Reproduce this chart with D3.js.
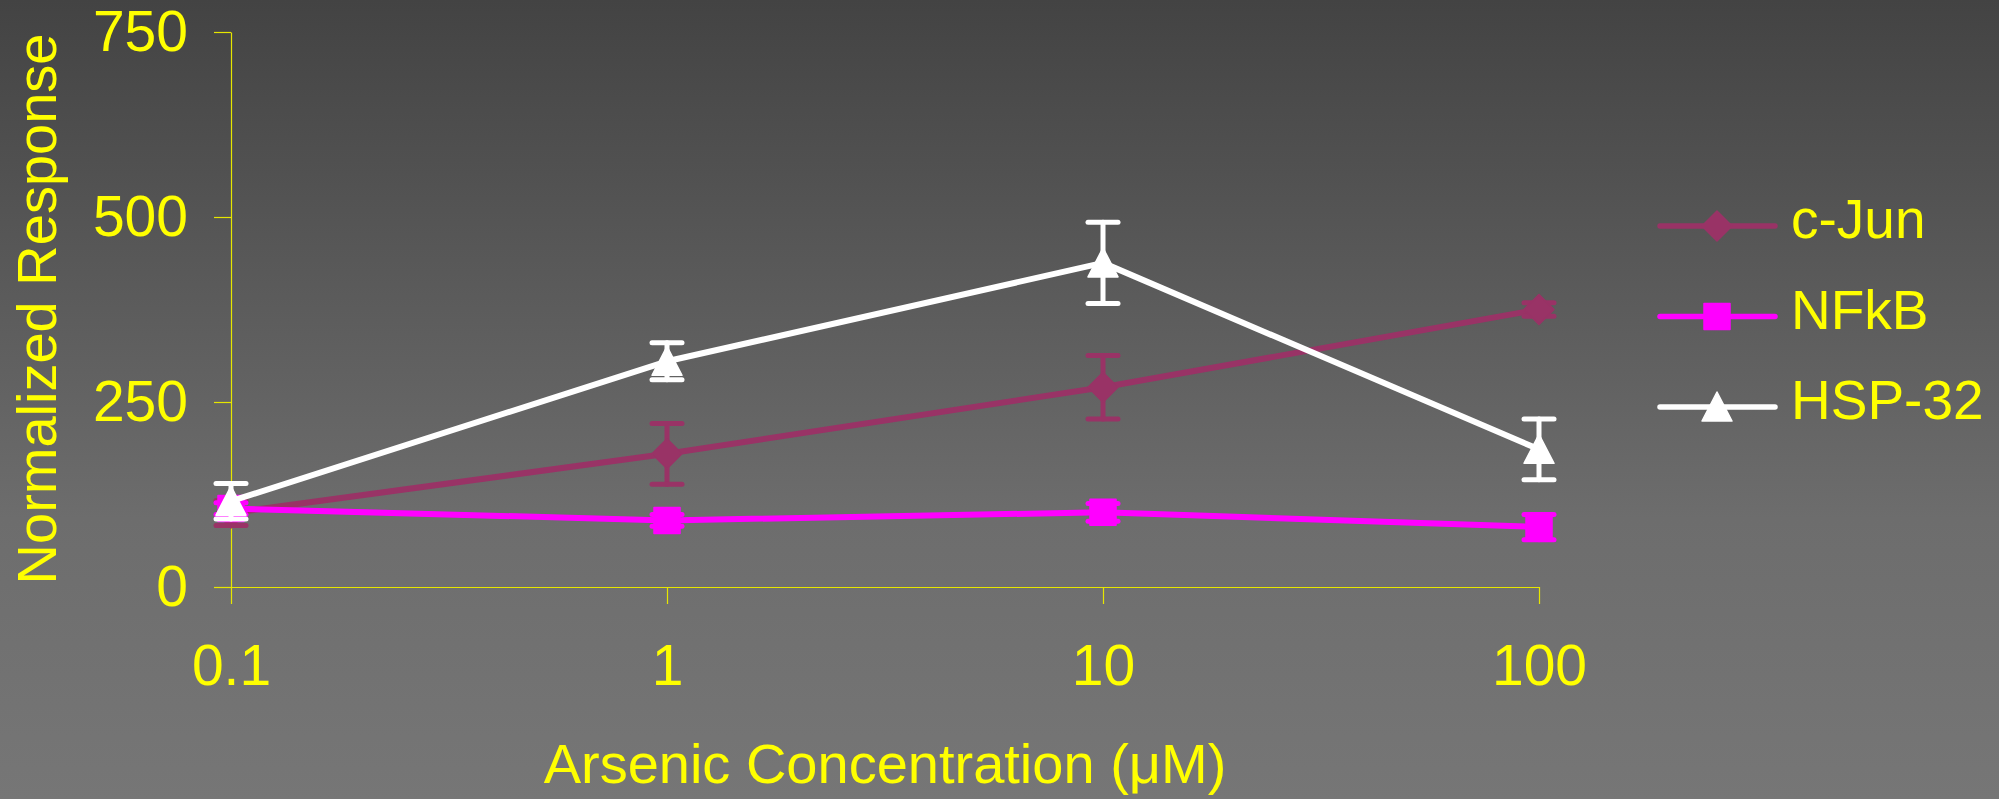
<!DOCTYPE html>
<html>
<head>
<meta charset="utf-8">
<script src="https://cdn.jsdelivr.net/npm/d3@7"></script>
<style>
  body { margin: 0; background: #5a5a5a; }
  svg { display: block; }
  text { font-family: "Liberation Sans", Arial, sans-serif; fill: #ffff00; }
</style>
</head>
<body>
<div id="chart"></div>
<script>
// concentrations (uM) and series values
var concentrations = [0.1, 1, 10, 100];
var seriesNames = ["c-Jun", "NFkB", "HSP-32"];
var cJun = [100, 180, 270, 375];
var cJunErr = [17, 41, 43, 9];
var nfkb = [106, 90, 101, 81];
var nfkbErr = [8, 8, 12, 17];
var hsp32 = [116, 305, 438, 186];
var hsp32Err = [24, 25, 55, 41];
var yTicks = [0, 250, 500, 750];
var xTicks = [0.1, 1, 10, 100];

var W = 1999, H = 799;
var margin = {left: 231, top: 32, right: 460, bottom: 212};

var series = [
  {name: seriesNames[0], values: cJun, err: cJunErr, color: "#993366", shape: "diamond"},
  {name: seriesNames[1], values: nfkb, err: nfkbErr, color: "#ff00ff", shape: "square"},
  {name: seriesNames[2], values: hsp32, err: hsp32Err, color: "#ffffff", shape: "triangle"}
];

var svg = d3.select("#chart").append("svg")
  .attr("width", W)
  .attr("height", H);

var grad = svg.append("defs").append("linearGradient")
  .attr("id", "bg")
  .attr("x1", 0).attr("y1", 0).attr("x2", 0).attr("y2", 1);
grad.append("stop").attr("offset", 0).attr("stop-color", "#434343");
grad.append("stop").attr("offset", 0.65).attr("stop-color", "#6d6d6d");
grad.append("stop").attr("offset", 1).attr("stop-color", "#767676");

svg.append("rect").attr("width", W).attr("height", H).attr("fill", "url(#bg)");

var x = d3.scaleLog()
  .domain([0.1, 100])
  .range([margin.left, W - margin.right]);

var y = d3.scaleLinear()
  .domain([0, 750])
  .range([H - margin.bottom, margin.top]);

// axes
var yAxis = svg.append("g")
  .attr("transform", "translate(" + margin.left + ",0)")
  .call(d3.axisLeft(y).tickValues(yTicks).tickSize(17).tickSizeOuter(0).tickPadding(26));

var xAxis = svg.append("g")
  .attr("transform", "translate(0," + y(0) + ")")
  .call(d3.axisBottom(x).tickValues(xTicks).tickSize(17).tickSizeOuter(0).tickPadding(41)
    .tickFormat(function(d){ return d < 1 ? d3.format(".1f")(d) : d3.format("d")(d); }));

[xAxis, yAxis].forEach(function(a){
  a.select(".domain").attr("stroke", "#e6e600").attr("stroke-width", 1.2);
  a.selectAll(".tick line").attr("stroke", "#e6e600").attr("stroke-width", 1.2);
  a.selectAll(".tick text")
    .attr("fill", "#ffff00")
    .style("font-family", "'Liberation Sans', Arial, sans-serif")
    .style("font-size", "57px");
});
// extend x axis line left to the end of the y tick, like the original
xAxis.select(".domain").attr("d", "M" + (margin.left - 17) + ",0.5H" + x(100));

// axis titles
svg.append("text")
  .attr("x", (x(0.1) + x(100)) / 2)
  .attr("y", 783)
  .attr("text-anchor", "middle")
  .style("font-size", "56px")
  .text("Arsenic Concentration (μM)");

svg.append("text")
  .attr("transform", "translate(56," + 309 + ") rotate(-90)")
  .attr("text-anchor", "middle")
  .style("font-size", "56px")
  .text("Normalized Response");

function marker(shape) {
  if (shape == "diamond") return "M0,-15L15,0L0,15L-15,0Z";
  if (shape == "square") return "M-13,-13H13V13H-13Z";
  return "M0,-15L15,14L-15,14Z";
}

var line = d3.line()
  .x(function(d, i){ return x(concentrations[i]); })
  .y(function(d){ return y(d); });

series.forEach(function(s){
  var g = svg.append("g").attr("class", "series");

  g.append("path")
    .datum(s.values)
    .attr("d", line)
    .attr("fill", "none")
    .attr("stroke", s.color)
    .attr("stroke-width", 6)
    .attr("stroke-linejoin", "round");

  var pts = s.values.map(function(v, i){ return {c: concentrations[i], v: v, e: s.err[i]}; });

  // error bars
  var eb = g.selectAll(".err").data(pts).enter().append("g")
    .attr("stroke", s.color)
    .attr("stroke-width", 5)
    .attr("stroke-linecap", "round");
  eb.append("line")
    .attr("x1", function(d){ return x(d.c); })
    .attr("x2", function(d){ return x(d.c); })
    .attr("y1", function(d){ return y(d.v - d.e); })
    .attr("y2", function(d){ return y(d.v + d.e); });
  eb.append("line")
    .attr("x1", function(d){ return x(d.c) - 15; })
    .attr("x2", function(d){ return x(d.c) + 15; })
    .attr("y1", function(d){ return y(d.v + d.e); })
    .attr("y2", function(d){ return y(d.v + d.e); });
  eb.append("line")
    .attr("x1", function(d){ return x(d.c) - 15; })
    .attr("x2", function(d){ return x(d.c) + 15; })
    .attr("y1", function(d){ return y(d.v - d.e); })
    .attr("y2", function(d){ return y(d.v - d.e); });

  g.selectAll(".pt").data(pts).enter().append("path")
    .attr("d", marker(s.shape))
    .attr("transform", function(d){ return "translate(" + x(d.c) + "," + y(d.v) + ")"; })
    .attr("fill", s.color)
    .attr("stroke", s.color)
    .attr("stroke-width", 1.5)
    .attr("stroke-linejoin", "round");
});

// legend
var legend = svg.append("g").attr("transform", "translate(1660,226)");
var item = legend.selectAll("g").data(series).enter().append("g")
  .attr("transform", function(d, i){ return "translate(0," + (i * 90.5) + ")"; });
item.append("line")
  .attr("x1", 0).attr("x2", 115)
  .attr("stroke", function(d){ return d.color; })
  .attr("stroke-width", 5.5)
  .attr("stroke-linecap", "round");
item.append("path")
  .attr("d", function(d){ return marker(d.shape); })
  .attr("transform", "translate(57,0)")
  .attr("fill", function(d){ return d.color; })
  .attr("stroke", function(d){ return d.color; })
  .attr("stroke-width", 1.5)
  .attr("stroke-linejoin", "round");
item.append("text")
  .attr("x", 131)
  .attr("y", 12)
  .style("font-size", "55px")
  .text(function(d){ return d.name; });
</script>
</body>
</html>
